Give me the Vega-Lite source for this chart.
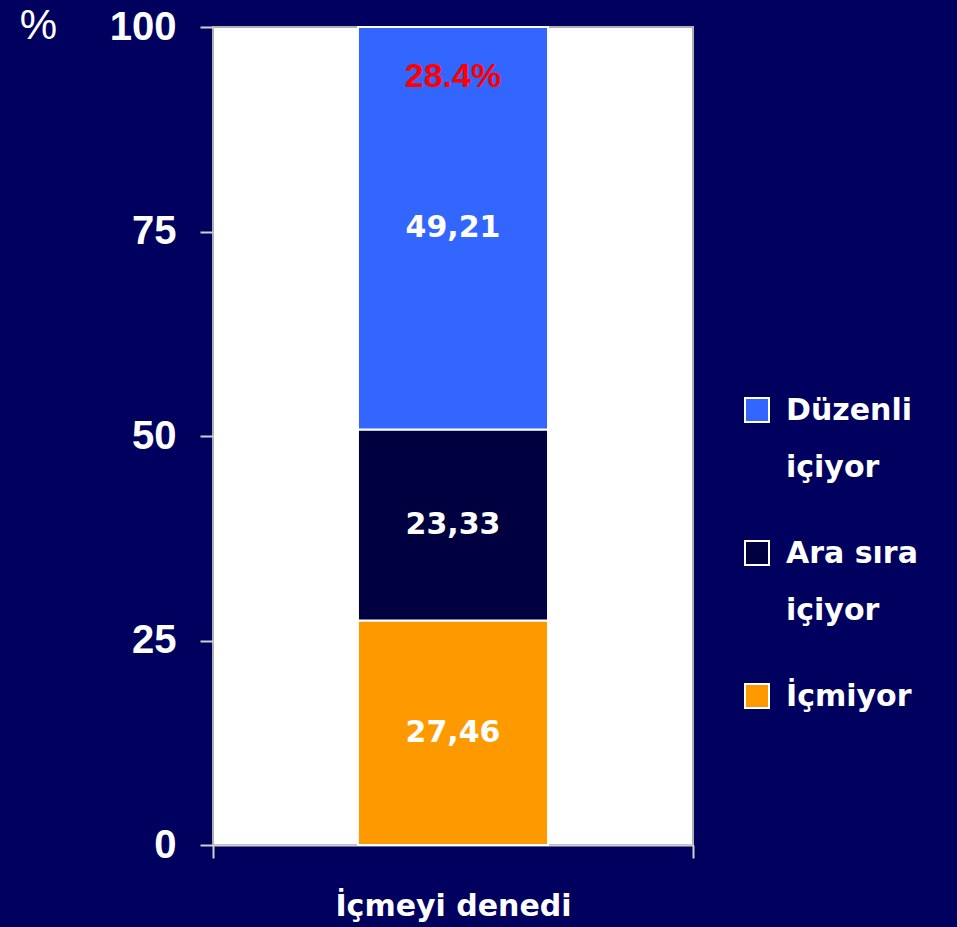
{
  "$schema": "https://vega.github.io/schema/vega-lite/v6.json",
  "autosize": {"type": "none"},
  "width": 480,
  "height": 818,
  "padding": {"left": 213, "top": 27, "right": 264, "bottom": 82},
  "background": "#00005f",
  "config": {
    "view": {"fill": "#ffffff", "stroke": "#b0b0b0", "strokeWidth": 2}
  },
  "datasets": {
    "bars": [
      {"grup": "İçmeyi denedi", "kategori": "İçmiyor", "deger": 27.46, "etiket": "27,46", "sira": 1},
      {"grup": "İçmeyi denedi", "kategori": "Ara sıra içiyor", "deger": 23.33, "etiket": "23,33", "sira": 2},
      {"grup": "İçmeyi denedi", "kategori": "Düzenli içiyor", "deger": 49.21, "etiket": "49,21", "sira": 3}
    ],
    "note": [
      {"grup": "İçmeyi denedi", "y": 93.9, "metin": "28.4%"}
    ]
  },
  "encoding": {
    "x": {
      "field": "grup",
      "type": "nominal",
      "scale": {"paddingOuter": 0, "paddingInner": 0},
      "axis": {
        "title": null,
        "labelAngle": 0,
        "labelFont": "DejaVu Sans",
        "labelFontWeight": "bold",
        "labelFontSize": 30,
        "labelColor": "#ffffff",
        "labelPadding": 33,
        "labelLimit": 400,
        "tickBand": "extent",
        "tickSize": 13,
        "tickColor": "#d0d0d0",
        "tickWidth": 2,
        "domainColor": "#d0d0d0",
        "domainWidth": 2
      }
    }
  },
  "layer": [
    {
      "data": {"name": "bars"},
      "mark": {"type": "bar", "width": {"band": 0.396}, "stroke": "#ffffff", "strokeWidth": 2},
      "encoding": {
        "y": {
          "field": "deger",
          "type": "quantitative",
          "stack": "zero",
          "scale": {"domain": [0, 100], "nice": false},
          "axis": {
            "values": [0, 25, 50, 75, 100],
            "grid": false,
            "domain": false,
            "tickSize": 13,
            "tickColor": "#d0d0d0",
            "tickWidth": 2,
            "labelFont": "Liberation Sans",
            "labelFontWeight": "bold",
            "labelFontSize": 40,
            "labelColor": "#ffffff",
            "labelPadding": 24,
            "title": "%",
            "titleAngle": 0,
            "titleFont": "Liberation Sans",
            "titleFontWeight": "normal",
            "titleFontSize": 42,
            "titleColor": "#ffffff",
            "titleX": -175,
            "titleY": -2,
            "titleAlign": "center",
            "titleBaseline": "middle"
          }
        },
        "color": {
          "field": "kategori",
          "type": "nominal",
          "scale": {
            "domain": ["Düzenli içiyor", "Ara sıra içiyor", "İçmiyor"],
            "range": ["#3366ff", "#000040", "#ff9900"]
          },
          "legend": {
            "title": null,
            "orient": "none",
            "legendX": 529,
            "legendY": 368,
            "padding": 0,
            "symbolType": "square",
            "symbolSize": 576,
            "symbolStrokeColor": "#ffffff",
            "symbolStrokeWidth": 2,
            "symbolOpacity": 1,
            "labelFont": "DejaVu Sans",
            "labelFontWeight": "bold",
            "labelFontSize": 30,
            "labelColor": "#ffffff",
            "labelOffset": 14,
            "labelLimit": 300,
            "rowPadding": 54,
            "labelExpr": "datum.label == 'İçmiyor' ? datum.label : [replace(datum.label, ' içiyor', ''), 'içiyor']",
            "labelBaseline": "top",
            "encode": {
              "labels": {"update": {"lineHeight": {"value": 57}, "dy": {"value": -14}}},
              "symbols": {"update": {"strokeWidth": {"value": 2}, "stroke": {"value": "#ffffff"}}}
            }
          }
        },
        "order": {"field": "sira", "type": "quantitative"}
      }
    },
    {
      "data": {"name": "bars"},
      "mark": {"type": "text", "font": "DejaVu Sans", "fontWeight": "bold", "fontSize": 30, "color": "#ffffff", "baseline": "middle"},
      "encoding": {
        "y": {"field": "deger", "type": "quantitative", "stack": "zero", "bandPosition": 0.5},
        "text": {"field": "etiket"},
        "order": {"field": "sira", "type": "quantitative"},
        "detail": {"field": "kategori"}
      }
    },
    {
      "data": {"name": "note"},
      "mark": {"type": "text", "font": "Liberation Sans", "fontWeight": "bold", "fontSize": 34, "color": "#ff0000", "baseline": "middle"},
      "encoding": {
        "y": {"field": "y", "type": "quantitative"},
        "text": {"field": "metin"}
      }
    }
  ]
}
